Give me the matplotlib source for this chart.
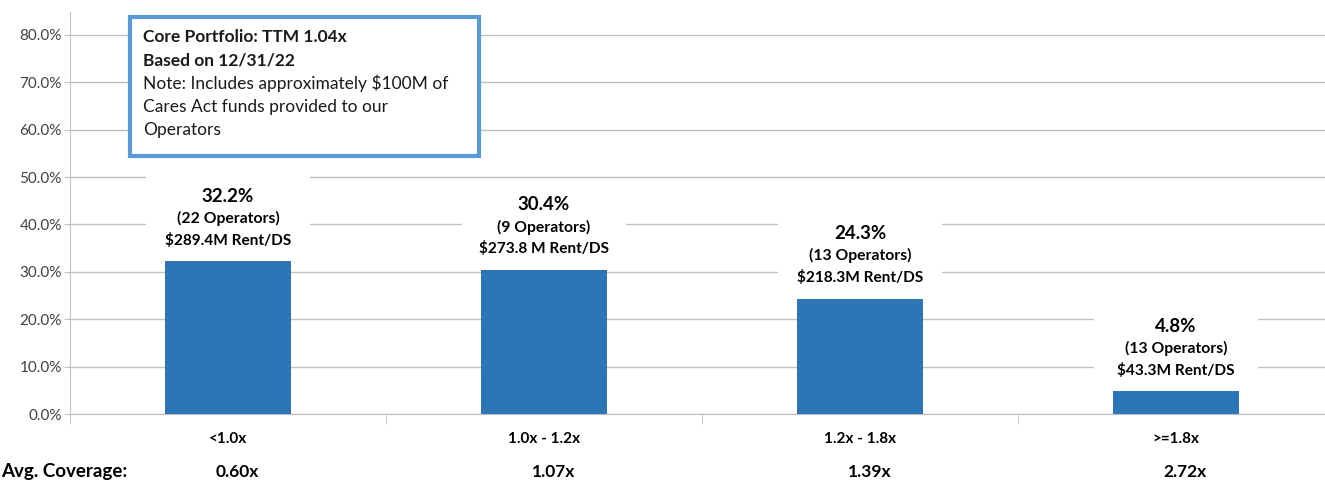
import matplotlib.pyplot as plt
from matplotlib.patches import Rectangle
import matplotlib.transforms as mtransforms

plt.rcParams['font.family'] = ['Lato', 'DejaVu Sans']

##data
categories = ["<1.0x", "1.0x - 1.2x", "1.2x - 1.8x", ">=1.8x"]
shares = [32.2, 30.4, 24.3, 4.8]
operators = ["(22 Operators)", "(9 Operators)", "(13 Operators)", "(13 Operators)"]
rent = ["$289.4M Rent/DS", "$273.8 M Rent/DS", "$218.3M Rent/DS", "$43.3M Rent/DS"]
avg_cov = ["0.60x", "1.07x", "1.39x", "2.72x"]
yticks = [0, 10, 20, 30, 40, 50, 60, 70, 80]
note_lines = ["Core Portfolio: TTM 1.04x", "Based on 12/31/22",
              "Note: Includes approximately $100M of",
              "Cares Act funds provided to our", "Operators"]

BLUE = "#2E75B6"
GRID = "#BFBFBF"

##figure
fig = plt.figure(figsize=(13.25, 4.8), dpi=100)
W, H = 1325, 480
ax_h_px = 414 - 12
ax = fig.add_axes([70 / W, (480 - 414) / H, 1264 / W, ax_h_px / H])
ymax = 80 * ax_h_px / (414 - 35)
ax.set_ylim(0, ymax)
ax.set_xlim(-0.5, 3.5)
px = ymax / ax_h_px  # data units per pixel

x = list(range(len(categories)))
ax.bar(x, shares, width=0.4, color=BLUE, zorder=3)

# grid
ax.set_yticks(yticks)
ax.set_yticklabels(["%.1f%%" % v for v in yticks], color="#404040", fontsize=11)
ax.grid(axis="y", color=GRID, linewidth=1, zorder=0)
ax.set_axisbelow(True)
for s in ["top", "right"]:
    ax.spines[s].set_visible(False)
ax.spines["left"].set_color(GRID)
ax.spines["bottom"].set_color(GRID)
ax.tick_params(axis="y", length=4.3, color=GRID, pad=1.5)

ax.set_xticks(x)
ax.set_xticklabels(categories, fontweight="bold", fontsize=11)
ax.set_xticks([-0.5, 0.5, 1.5, 2.5], minor=True)
ax.tick_params(axis="x", which="major", length=0, pad=13)
ax.tick_params(axis="x", which="minor", length=7, color=GRID)

# labels above bars with white background cutting the gridlines
for i, v in enumerate(shares):
    ax.add_patch(Rectangle((i - 0.26, v + 10 * px), 0.52, 76 * px,
                           facecolor="white", edgecolor="none", zorder=1))
    ax.annotate("%.1f%%" % v, (i, v), xytext=(0, 65 * 0.72), textcoords="offset points",
                ha="center", va="center", fontsize=13.5, fontweight="bold", zorder=5)
    ax.annotate(operators[i], (i, v), xytext=(0, 43 * 0.72), textcoords="offset points",
                ha="center", va="center", fontsize=11.3, fontweight="bold", zorder=5)
    ax.annotate(rent[i], (i, v), xytext=(0, 21 * 0.72), textcoords="offset points",
                ha="center", va="center", fontsize=11.1, fontweight="bold", zorder=5)

# avg coverage row
trans = mtransforms.blended_transform_factory(ax.transData, ax.transAxes)
for i, c in enumerate(avg_cov):
    ax.text(i + 0.03, (414 - 472) / ax_h_px, c, transform=trans, ha="center",
            va="center", fontsize=12.5, fontweight="bold")
fig.text(127 / W, (480 - 472) / H, "Avg. Coverage:", ha="right", va="center",
         fontsize=13.5, fontweight="bold")

# note box
fig.patches.append(Rectangle((130 / W, (480 - 156) / H), (479 - 130) / W, (156 - 17) / H,
                             transform=fig.transFigure, facecolor="white",
                             edgecolor="#5B9BD5", linewidth=3, zorder=10))
for j, line in enumerate(note_lines):
    fig.text(143 / W, (480 - (37 + j * 23.3)) / H, line, ha="left", va="center",
             fontsize=12.5, fontweight="bold" if j < 2 else "normal", color="#1a1a1a",
             zorder=11)

fig.savefig("out.png", dpi=100)
